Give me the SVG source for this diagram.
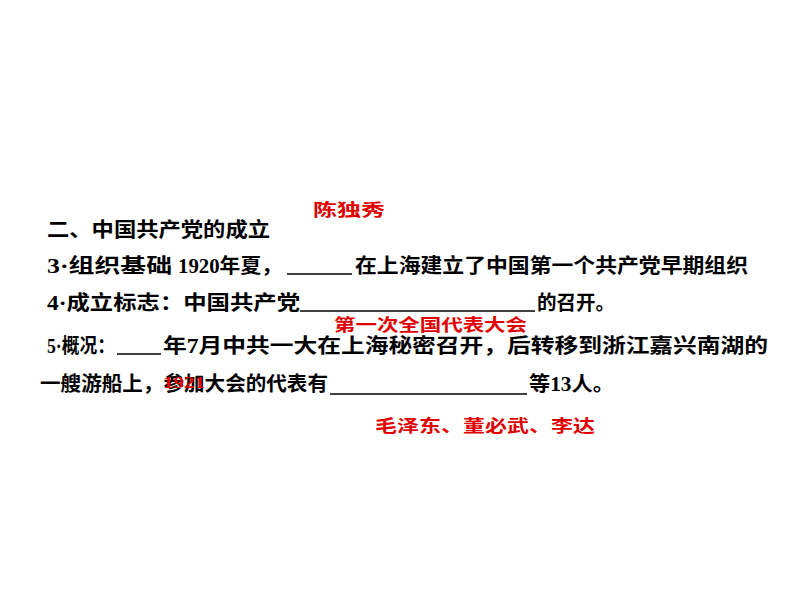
<svg xmlns="http://www.w3.org/2000/svg" width="794" height="596" viewBox="0 0 794 596">
<style>
.t{font-family:"Liberation Serif","Noto Sans CJK SC",serif;font-size:20px;font-weight:bold;fill:#000}
.r{font-family:"Liberation Serif","Noto Sans CJK SC",serif;font-size:17px;font-weight:bold;fill:#e00000}
.b{stroke:#000;stroke-width:1.3}
</style>
<rect width="794" height="596" fill="#fff"/>
<g id="heading"><text class="t" x="47" y="237" textLength="223" lengthAdjust="spacingAndGlyphs">二、中国共产党的成立</text></g>
<g id="line3">
<text class="t" x="47" y="273" textLength="125" lengthAdjust="spacingAndGlyphs">3·组织基础</text>
<text class="t" x="178" y="273" textLength="104" lengthAdjust="spacingAndGlyphs">1920年夏，</text>
<line class="b" x1="287" y1="274" x2="352" y2="274"/>
<text class="t" x="355" y="273" textLength="393" lengthAdjust="spacingAndGlyphs">在上海建立了中国第一个共产党早期组织</text>
</g>
<g id="line4">
<text class="t" x="47" y="310" textLength="253" lengthAdjust="spacingAndGlyphs">4·成立标志：中国共产党</text>
<line class="b" x1="300" y1="311" x2="535" y2="311"/>
<text class="t" x="537" y="310" textLength="78" lengthAdjust="spacingAndGlyphs">的召开。</text>
</g>
<g id="line5">
<text class="t" x="47" y="353" textLength="68" lengthAdjust="spacingAndGlyphs">5·概况：</text>
<line class="b" x1="117" y1="354" x2="161" y2="354"/>
<text class="t" x="163" y="353" textLength="605" lengthAdjust="spacingAndGlyphs">年7月中共一大在上海秘密召开，后转移到浙江嘉兴南湖的</text>
</g>
<g id="line6">
<text class="t" x="40" y="391" textLength="288" lengthAdjust="spacingAndGlyphs">一艘游船上，参加大会的代表有</text>
<line class="b" x1="330" y1="394" x2="527" y2="394"/>
<text class="t" x="529" y="391" textLength="85" lengthAdjust="spacingAndGlyphs">等13人。</text>
</g>
<g id="answers">
<text class="r" x="313" y="216" textLength="72" lengthAdjust="spacingAndGlyphs">陈独秀</text>
<text class="r" x="334" y="331" textLength="193" lengthAdjust="spacingAndGlyphs">第一次全国代表大会</text>
<text class="r" x="163" y="388" textLength="42" lengthAdjust="spacingAndGlyphs">1921</text>
<text class="r" x="375" y="432" textLength="220" lengthAdjust="spacingAndGlyphs">毛泽东、董必武、李达</text>
</g>
</svg>
